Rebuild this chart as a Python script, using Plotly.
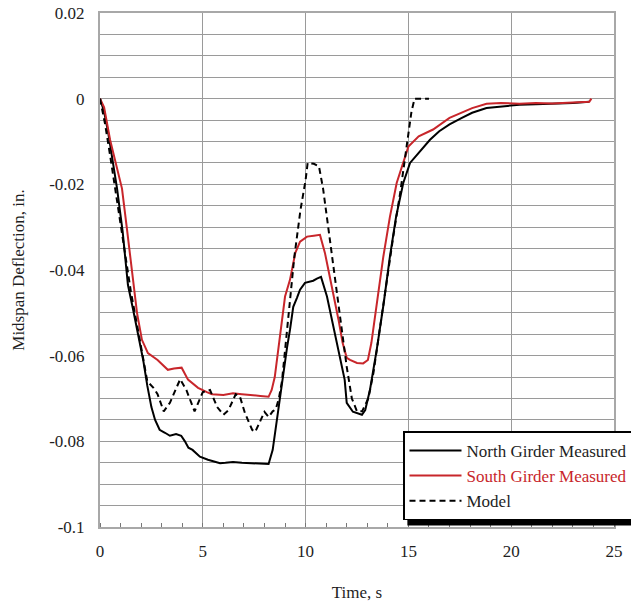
import plotly.graph_objects as go

# Time histories of midspan deflection (s, in.)
north_t = [0, 0.2, 0.4, 0.6, 0.83, 1.1, 1.36, 1.6, 1.9, 2.1, 2.3, 2.5, 2.68, 2.9, 3.16, 3.4, 3.7,
           3.95, 4.13, 4.3, 4.5, 4.86, 5.25, 5.6, 5.84, 6.1, 6.47, 6.9, 7.3, 7.8, 8.2, 8.4, 8.6,
           8.9, 9.1, 9.24, 9.4, 9.58, 9.73, 9.97, 10.2, 10.37, 10.55, 10.75, 11.04, 11.35, 11.67,
           11.9, 12.0, 12.3, 12.74, 12.9, 13.13, 13.46, 13.8, 14.1, 14.4, 14.75, 15.08, 15.56,
           16.05, 16.5, 17.0, 17.6, 18.1, 18.8, 19.5, 20.4, 21.2, 22.0, 23.0, 23.8]
north_d = [0, -0.003, -0.008, -0.0145, -0.021, -0.031, -0.0435, -0.049, -0.056, -0.061, -0.067,
           -0.072, -0.075, -0.0773, -0.078, -0.0787, -0.0783, -0.0787, -0.080, -0.0815, -0.082,
           -0.0836, -0.0843, -0.0848, -0.0851, -0.085, -0.0848, -0.085, -0.0851, -0.0852, -0.0853,
           -0.082, -0.075, -0.065, -0.058, -0.054, -0.0486, -0.0465, -0.0446, -0.043, -0.0427,
           -0.0425, -0.042, -0.0416, -0.0462, -0.0533, -0.0603, -0.0656, -0.071, -0.0731, -0.0738,
           -0.0727, -0.068, -0.0586, -0.0477, -0.0369, -0.0276, -0.0197, -0.015, -0.0124, -0.0096,
           -0.0076, -0.006, -0.0045, -0.0033, -0.0022, -0.0018, -0.0014, -0.0013, -0.0012, -0.001,
           -0.0007]

south_t = [0, 0.2, 0.49, 0.8, 1.07, 1.3, 1.6, 1.8, 2.04, 2.33, 2.8, 3.3, 3.6, 3.97, 4.28, 4.77,
           5.2, 5.45, 6.0, 6.47, 6.9, 7.3, 7.8, 8.2, 8.35, 8.5, 8.75, 9.0, 9.24, 9.5, 9.73, 10.07,
           10.4, 10.7, 10.94, 11.28, 11.6, 11.8, 12.0, 12.16, 12.5, 12.8, 13.03, 13.2, 13.46,
           13.78, 14.1, 14.43, 15.0, 15.5, 16.2, 17.0, 18.1, 18.8, 19.5, 20.4, 21.2, 22.0, 23.0,
           23.8, 23.9]
south_d = [0, -0.002, -0.0096, -0.016, -0.021, -0.03, -0.0423, -0.05, -0.0563, -0.0594, -0.061,
           -0.0633, -0.063, -0.0628, -0.0656, -0.0675, -0.0685, -0.069, -0.0692, -0.0688, -0.069,
           -0.0691, -0.0694, -0.0696, -0.068, -0.065, -0.055, -0.0462, -0.0423, -0.036, -0.0334,
           -0.0322, -0.032, -0.0318, -0.036, -0.0439, -0.0516, -0.057, -0.0605, -0.061, -0.0617,
           -0.0618, -0.061, -0.057, -0.0477, -0.0369, -0.0276, -0.0197, -0.0112, -0.0088,
           -0.0072, -0.0045, -0.0022, -0.0012, -0.001, -0.0012, -0.001, -0.0011, -0.0009,
           -0.0007, 0]

model_t = [0, 0.25, 0.5, 0.75, 1.0, 1.5, 2.0, 2.3, 2.6, 2.8, 3.1, 3.4, 3.9, 4.2, 4.6, 5.0, 5.35,
           5.7, 6.0, 6.25, 6.6, 6.8, 7.05, 7.4, 7.55, 7.8, 8.0, 8.2, 8.4, 8.55, 8.7, 8.85, 9.1,
           9.45, 9.75, 10.0, 10.1, 10.4, 10.65, 10.85, 11.1, 11.35, 11.6, 11.8, 12.0, 12.25,
           12.5, 12.75, 13.05, 13.3, 13.6, 13.95, 14.27, 14.6, 14.9, 15.15, 15.3, 16.0]
model_d = [0, -0.006, -0.0135, -0.0215, -0.03, -0.045, -0.058, -0.066, -0.0675, -0.069, -0.073,
           -0.071, -0.0655, -0.068, -0.073, -0.0685, -0.068, -0.072, -0.0738, -0.0727, -0.069,
           -0.0695, -0.0734, -0.0773, -0.0778, -0.075, -0.0731, -0.0743, -0.073, -0.0725, -0.07,
           -0.066, -0.054, -0.037, -0.026, -0.019, -0.015, -0.0152, -0.0158, -0.021, -0.030,
           -0.039, -0.0486, -0.056, -0.0626, -0.070, -0.073, -0.073, -0.070, -0.064, -0.054,
           -0.043, -0.032, -0.022, -0.0112, -0.003, 0, 0]

y_tick_vals = [0.02, 0, -0.02, -0.04, -0.06, -0.08, -0.1]
y_tick_text = ["0.02", "0", "-0.02", "-0.04", "-0.06", "-0.08", "-0.1"]
x_tick_vals = [0, 5, 10, 15, 20, 25]

RED = "#c8262b"
FONT = "Times New Roman, Liberation Serif, serif"
INK = "#1e1e1e"
GRID = "#9a9a9a"

fig = go.Figure()
fig.add_trace(go.Scatter(x=north_t, y=north_d, mode="lines", name="North Girder Measured",
                         line=dict(color="black", width=2)))
fig.add_trace(go.Scatter(x=south_t, y=south_d, mode="lines",
                         name=f"<span style='color:{RED}'>South Girder Measured</span>",
                         line=dict(color=RED, width=2)))
fig.add_trace(go.Scatter(x=model_t, y=model_d, mode="lines", name="Model",
                         line=dict(color="black", width=2, dash="6px,4px")))

fig.update_xaxes(range=[0, 25], tickvals=x_tick_vals, showgrid=True, gridcolor=GRID, gridwidth=1,
                 showline=True, linecolor="#a8a8a8", linewidth=2, mirror=True, zeroline=False,
                 ticks="", ticklabelstandoff=8, tickfont=dict(family=FONT, size=17, color=INK),
                 minor=dict(dtick=1, ticks="inside", ticklen=4, tickcolor="#777", showgrid=False),
                 title=dict(text="Time, s", font=dict(family=FONT, size=17, color=INK), standoff=28))
fig.update_yaxes(range=[-0.1, 0.02], tickvals=y_tick_vals, ticktext=y_tick_text, showgrid=True,
                 gridcolor=GRID, gridwidth=1, showline=True, linecolor="#a8a8a8", linewidth=2,
                 mirror=True, zeroline=False, ticks="", ticklabelstandoff=10,
                 tickfont=dict(family=FONT, size=17, color=INK),
                 minor=dict(dtick=0.005, showgrid=True, gridcolor=GRID, gridwidth=1),
                 title=dict(text="Midspan Deflection, in.", font=dict(family=FONT, size=17, color=INK),
                            standoff=20))

# drop shadow behind the legend box
fig.add_shape(type="rect", xref="paper", yref="paper", x0=0.598, x1=1.2, y0=0.003, y1=0.176,
              fillcolor="black", line=dict(width=0), layer="above")

fig.update_layout(
    width=631, height=602,
    margin=dict(l=100, r=17, t=13, b=75, autoexpand=False),
    paper_bgcolor="white", plot_bgcolor="white",
    font=dict(family=FONT, size=17, color=INK),
    showlegend=True,
    legend=dict(x=0.5895, y=0.186, xanchor="left", yanchor="top", bgcolor="white",
                bordercolor="black", borderwidth=1.5, font=dict(family=FONT, size=17, color=INK),
                itemwidth=52, tracegroupgap=0),
)

fig.write_html("out.html")
